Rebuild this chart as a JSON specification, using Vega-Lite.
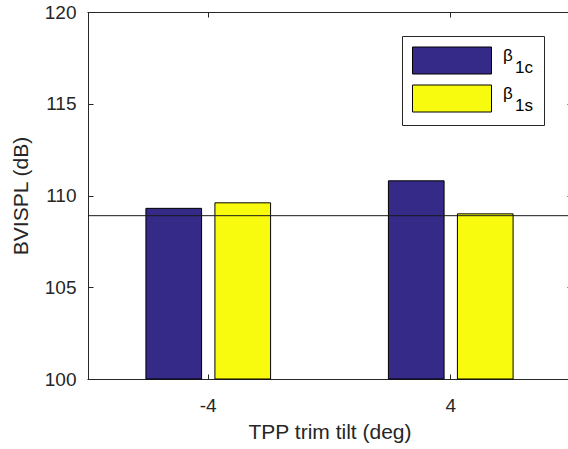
{
  "$schema": "https://vega.github.io/schema/vega-lite/v6.json",
  "width": 480,
  "height": 367,
  "autosize": {"type": "none"},
  "padding": {"left": 88, "top": 12, "right": 0, "bottom": 70},
  "background": "white",
  "config": {
    "font": "Liberation Sans",
    "view": {"stroke": null},
    "axis": {
      "domainColor": "#262626",
      "tickColor": "#262626",
      "labelColor": "#262626",
      "titleColor": "#262626",
      "labelFont": "Liberation Sans",
      "titleFont": "Liberation Sans",
      "labelFontSize": 19,
      "titleFontSize": 21,
      "titleFontWeight": "normal",
      "grid": false,
      "tickSize": -5,
      "domainWidth": 1,
      "tickWidth": 1
    },
    "style": {"guide-label": {"lineHeight": 12}}
  },
  "datasets": {
    "bars": [
      {"tilt": "-4", "coef": "β1c", "bvispl": 109.3},
      {"tilt": "-4", "coef": "β1s", "bvispl": 109.6},
      {"tilt": "4", "coef": "β1c", "bvispl": 110.8},
      {"tilt": "4", "coef": "β1s", "bvispl": 109.0}
    ],
    "ref": [{"level": 108.9}]
  },
  "resolve": {"axis": {"x": "independent", "y": "independent"}},
  "layer": [
    {
      "data": {"name": "bars"},
      "mark": {"type": "bar", "stroke": "#000000", "strokeWidth": 1},
      "encoding": {
        "x": {
          "field": "tilt",
          "type": "nominal",
          "scale": {"domain": ["-4", "4"], "range": [-1, 484], "paddingInner": 0, "paddingOuter": 0},
          "axis": {"title": "TPP trim tilt (deg)", "labelAngle": 0, "labelPadding": 22, "titlePadding": 6}
        },
        "xOffset": {
          "field": "coef",
          "type": "nominal",
          "scale": {"domain": ["β1c", "β1s"], "paddingInner": 0.193, "paddingOuter": 0.854}
        },
        "y": {
          "field": "bvispl",
          "type": "quantitative",
          "scale": {"domain": [100, 120], "zero": false, "nice": false},
          "axis": {"title": "BVISPL (dB)", "values": [100, 105, 110, 115, 120], "labelPadding": 17, "titlePadding": 13}
        },
        "y2": {"datum": 100},
        "color": {
          "field": "coef",
          "type": "nominal",
          "scale": {"domain": ["β1c", "β1s"], "range": ["#352a87", "#f9fb0e"]},
          "legend": {
            "orient": "none",
            "legendX": 314,
            "legendY": 24,
            "title": null,
            "strokeColor": "#262626",
            "fillColor": "white",
            "padding": 10.5,
            "symbolType": "M-2.926,-1H2.926V1H-2.926Z",
            "symbolSize": 729,
            "symbolOffset": 25.5,
            "symbolStrokeColor": "#000000",
            "symbolStrokeWidth": 1,
            "symbolOpacity": 1,
            "rowPadding": 6,
            "labelOffset": 37,
            "labelFont": "Liberation Sans",
            "labelFontSize": 17,
            "labelBaseline": "alphabetic",
            "labelColor": "#000000",
            "labelExpr": "['β', '⠀' + slice(datum.label, 1)]"
          }
        }
      }
    },
    {
      "data": {"name": "ref"},
      "mark": {"type": "rule", "color": "#1a1a1a", "strokeWidth": 1},
      "encoding": {"y": {"field": "level", "type": "quantitative", "axis": null}}
    },
    {
      "data": {"name": "bars"},
      "mark": {"type": "point", "opacity": 0},
      "encoding": {
        "x": {
          "field": "tilt",
          "type": "nominal",
          "axis": {"orient": "top", "labels": false, "title": null}
        },
        "y": {
          "field": "bvispl",
          "type": "quantitative",
          "axis": {"orient": "right", "labels": false, "title": null, "offset": 4, "values": [100, 105, 110, 115, 120]}
        }
      }
    }
  ]
}
